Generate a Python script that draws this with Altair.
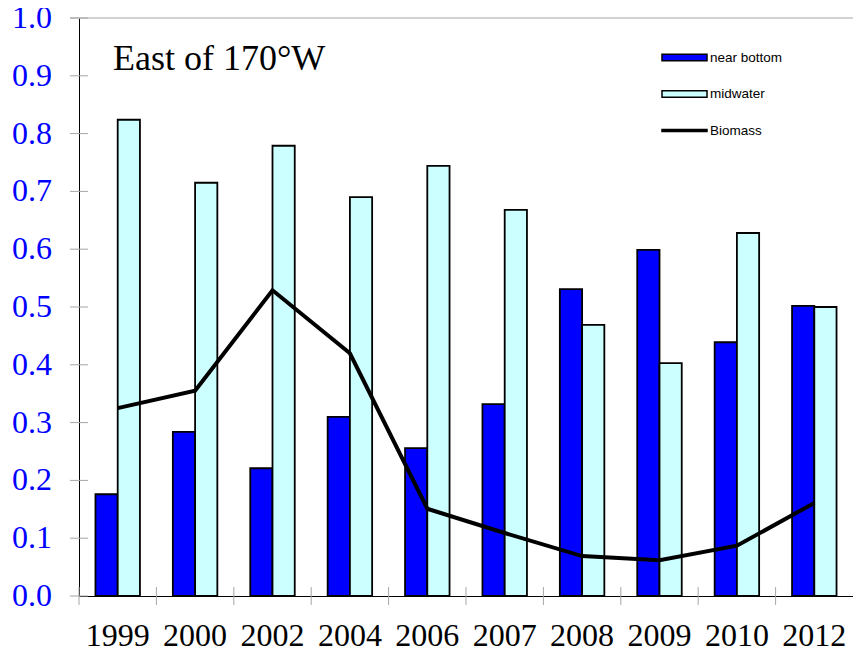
import altair as alt
import pandas as pd

# ---------------- data ----------------
years = ["1999", "2000", "2002", "2004", "2006", "2007", "2008", "2009", "2010", "2012"]
near_bottom = [0.176, 0.284, 0.221, 0.310, 0.256, 0.332, 0.531, 0.599, 0.439, 0.502]
midwater = [0.824, 0.715, 0.779, 0.690, 0.744, 0.668, 0.469, 0.403, 0.628, 0.500]
biomass = [0.325, 0.355, 0.529, 0.420, 0.151, 0.109, 0.069, 0.062, 0.087, 0.161]
series_names = ["near bottom", "midwater", "Biomass"]
series_colors = ["#0000FF", "#CCFFFF", "#000000"]
y_tick_values = [0.0, 0.1, 0.2, 0.3, 0.4, 0.5, 0.6, 0.7, 0.8, 0.9, 1.0]
y_tick_labels = ["0.0", "0.1", "0.2", "0.3", "0.4", "0.5", "0.6", "0.7", "0.8", "0.9", "1.0"]
panel_label = "East of 170°W"

# ---------------- tables ----------------
bars_df = pd.DataFrame({
    "year": years * 2,
    "series": [series_names[0]] * len(years) + [series_names[1]] * len(years),
    "value": near_bottom + midwater,
})
line_df = pd.DataFrame({"year": years, "series": series_names[2], "value": biomass})
legend_df = pd.DataFrame({"series": series_names})
yticks_df = pd.DataFrame({"v": y_tick_values, "lab": y_tick_labels})
years_df = pd.DataFrame({"year": years})
label_df = pd.DataFrame({"label": [panel_label]})

W, H = 774, 578
GRAY = "#A6A6A6"
SERIF = "'Liberation Serif', 'Times New Roman', 'DejaVu Serif', serif"
SANS = "'Liberation Sans', Arial, sans-serif"

x_scale = alt.Scale(domain=years, paddingInner=0, paddingOuter=0)
y_scale = alt.Scale(domain=[0, 1], nice=False, zero=True)
color_scale = alt.Scale(domain=series_names, range=series_colors)
RECT = "M-1,-0.14H1V0.14H-1Z"
LINE = "M-1,-0.04H1V0.04H-1Z"
shape_scale = alt.Scale(domain=series_names, range=[RECT, RECT, LINE])

x_axis = alt.Axis(title=None, ticks=False, tickSize=0, grid=False, labels=False,
                  domainColor="black", domainWidth=1)
y_axis = alt.Axis(title=None, ticks=False, tickSize=0, grid=False, labels=False,
                  values=y_tick_values, domainColor="black", domainWidth=1)

legend_def = alt.Legend(title=None, orient="none", legendX=582, legendY=16,
                        labelFont=SANS, labelFontSize=13.5,
                        labelColor="black", symbolSize=2025,
                        symbolOpacity=1, rowPadding=6.5, labelOffset=2,
                        padding=0)

X = lambda **kw: alt.X("year:N", scale=x_scale, axis=x_axis, **kw)
Yv = lambda f: alt.Y(f, scale=y_scale, axis=y_axis)

bars = alt.Chart(bars_df).mark_bar(stroke="black", strokeWidth=1.8).encode(
    x=X(),
    xOffset=alt.XOffset("series:N", sort=series_names[:2],
                        scale=alt.Scale(domain=series_names[:2], paddingInner=0, paddingOuter=0.74)),
    y=Yv("value:Q"),
    color=alt.Color("series:N", scale=color_scale, legend=legend_def),
)

line = alt.Chart(line_df).mark_line(color="black", strokeWidth=4).encode(
    x=X(),
    y=Yv("value:Q"),
)

legend_pts = alt.Chart(legend_df).mark_point(
    filled=True, opacity=0, stroke="black", strokeWidth=1.5
).encode(
    color=alt.Color("series:N", scale=color_scale, legend=legend_def),
    shape=alt.Shape("series:N", scale=shape_scale, legend=legend_def),
)

ytick_rules = alt.Chart(yticks_df).mark_rule(color=GRAY, strokeWidth=1).encode(
    y=Yv("v:Q"),
    x=alt.value(-9), x2=alt.value(9),
)

ytick_labels = alt.Chart(yticks_df).mark_text(
    align="right", baseline="middle", font=SERIF, fontSize=32, fill="#0000FF"
).encode(
    y=Yv("v:Q"),
    x=alt.value(-27),
    text="lab:N",
)

xtick_rules = alt.Chart(years_df).mark_rule(color=GRAY, strokeWidth=1).encode(
    x=X(bandPosition=0),
    y=alt.value(H - 9), y2=alt.value(H + 9),
)

xtick_labels = alt.Chart(years_df).mark_text(
    align="center", baseline="alphabetic", font=SERIF, fontSize=32, color="black"
).encode(
    x=X(),
    y=alt.value(H + 49.5),
    text="year:N",
)

top_rule = alt.Chart(label_df).mark_rule(color=GRAY, strokeWidth=1).encode(
    y=alt.Y(datum=1.0, scale=y_scale, axis=y_axis),
    x=alt.value(-9), x2=alt.value(W),
)

title_text = alt.Chart(label_df).mark_text(
    align="left", baseline="alphabetic", font=SERIF, fontSize=36, color="black"
).encode(x=alt.value(34), y=alt.value(52), text="label:N")

chart = alt.layer(
    bars, line, ytick_rules, xtick_rules, xtick_labels, ytick_labels,
    top_rule, title_text, legend_pts
).properties(
    width=W, height=H,
    autosize=alt.AutoSizeParams(type="none"),
    padding={"left": 71, "top": 10, "right": 0, "bottom": 56},
    background="white",
).configure_view(stroke=None)

chart.save("out.html", embed_options={"renderer": "svg", "actions": False})
